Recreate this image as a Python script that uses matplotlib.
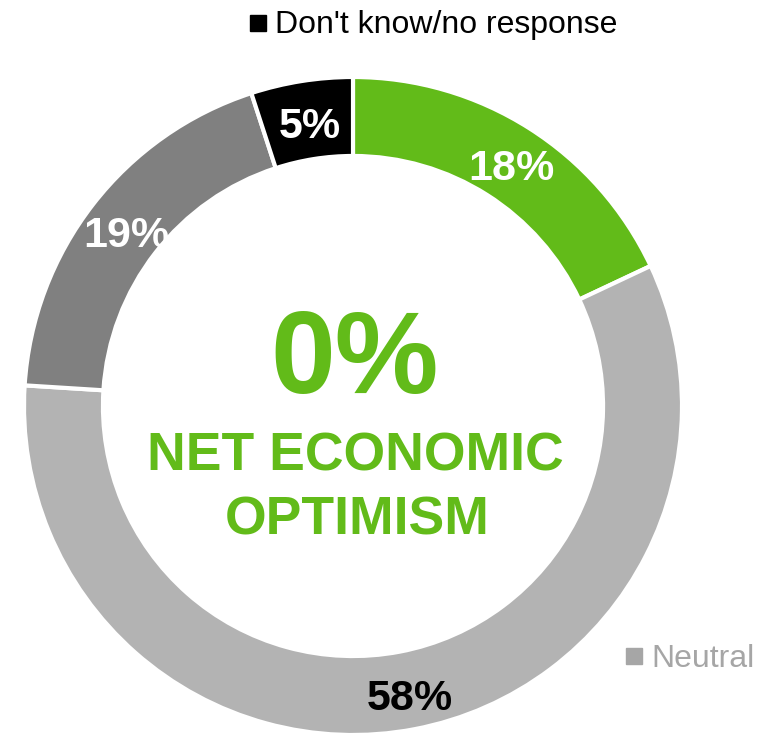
import matplotlib
matplotlib.use("Agg")
import matplotlib.pyplot as plt
import numpy as np

plt.rcParams['font.family'] = ['Liberation Sans', 'DejaVu Sans']

categories = ["Optimistic", "Neutral", "Pessimistic", "Don't know/no response"]
values = [18, 58, 19, 5]
labels = ["18%", "58%", "19%", "5%"]
colors = ["#62BB19", "#B3B3B3", "#808080", "#000000"]
label_colors = ["white", "black", "white", "white"]
net_value = "0%"
green = "#62BB19"

W, H = 759, 735
fig = plt.figure(figsize=(W / 100, H / 100), dpi=100)
cx, cy, R = 353, 406, 329
ax = fig.add_axes([(cx - R) / W, (H - cy - R) / H, 2 * R / W, 2 * R / H])

wedges, _ = ax.pie(values, colors=colors, startangle=90, counterclock=False,
                   radius=1.0, wedgeprops=dict(width=0.24, edgecolor="white", linewidth=3))
ax.set_xlim(-1, 1)
ax.set_ylim(-1, 1)
ax.set_aspect("equal")
ax.axis("off")

cum = np.cumsum([0] + values[:-1])
total = sum(values)
half_digit = 19 / R
for v, c0, lab, lc in zip(values, cum, labels, label_colors):
    mid = (c0 + v / 2) / total * 2 * np.pi
    r = 0.882
    ax.text(r * np.sin(mid) + 0.008, r * np.cos(mid) - half_digit, lab, ha="center",
            va="baseline", fontsize=31, fontweight="bold", color=lc)

ax.text(0.006, 0.04, net_value, ha="center", va="baseline", fontsize=84,
        fontweight="bold", color=green)
ax.text(0.008, -0.195, "NET ECONOMIC", ha="center", va="baseline",
        fontsize=38.5, fontweight="bold", color=green)
ax.text(0.014, -0.392, "OPTIMISM", ha="center", va="baseline",
        fontsize=38.5, fontweight="bold", color=green)

# legend entries
fig.patches.append(plt.Rectangle((250 / W, 1 - 31 / H), 16 / W, 16 / H,
                                 transform=fig.transFigure, color="#000000"))
fig.text(275 / W, 1 - 33 / H, categories[3], ha="left", va="baseline",
         fontsize=23, color="#000000")
fig.patches.append(plt.Rectangle((626 / W, 1 - 664 / H), 16 / W, 16 / H,
                                 transform=fig.transFigure, color="#A6A6A6"))
fig.text(651 / W, 1 - 667 / H, categories[1], ha="left", va="baseline",
         fontsize=23, color="#A6A6A6")

fig.savefig("out.png", dpi=100)
